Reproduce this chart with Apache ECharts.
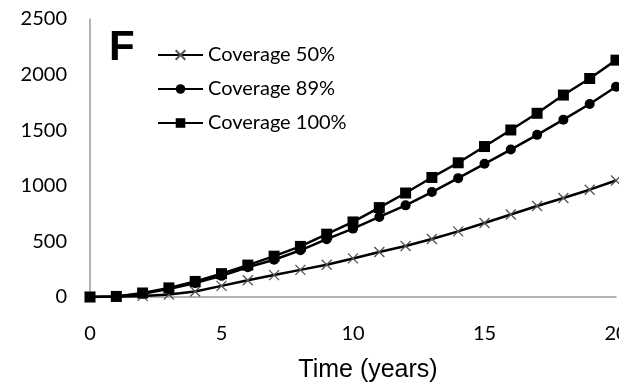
<!DOCTYPE html>
<html>
<head>
<meta charset="utf-8">
<script src="https://cdn.jsdelivr.net/npm/echarts@6/dist/echarts.min.js"></script>
<style>html,body{margin:0;padding:0;background:#fff}#c{width:619px;height:385px}</style>
</head>
<body>
<div id="c"></div>
<script>
var years = [0,1,2,3,4,5,6,7,8,9,10,11,12,13,14,15,16,17,18,19,20];
var cov50  = [0,2,10,22,50,100,150,197,244,290,347,405,458,522,590,665,742,818,890,965,1048];
var cov89  = [0,4,30,72,125,190,268,335,420,520,615,720,824,944,1069,1198,1326,1458,1595,1736,1891];
var cov100 = [0,5,36,82,140,210,287,367,455,565,675,804,935,1075,1207,1353,1502,1652,1816,1965,2130];
var seriesNames = ['Coverage 50%','Coverage 89%','Coverage 100%'];
var panelLabel = 'F';
var xTitle = 'Time (years)';

function pairs(v){ return years.map(function(t,i){ return [t, v[i]]; }); }

var chart = echarts.init(document.getElementById('c'), null, {renderer:'canvas'});
var lab = {fontFamily:'Lato', fontSize:20, color:'#000', formatter:function(v){return String(v);}};
chart.setOption({
  animation:false,
  backgroundColor:'#fff',
  grid:{left:90, right:3, top:19, bottom:88, containLabel:false, outerBoundsMode:'none'},
  graphic:[{type:'text', left:109, top:27, style:{text:panelLabel, font:'bold 42px "Liberation Sans"', fill:'#000'}}],
  legend:{
    orient:'vertical', left:152, top:38, itemGap:10, itemWidth:45, itemHeight:12,
    textStyle:{fontFamily:'Lato', fontSize:20, color:'#000', lineHeight:24},
    data:seriesNames
  },
  xAxis:{
    type:'value', min:0, max:20, interval:5,
    name:xTitle, nameLocation:'middle', nameGap:61,
    nameTextStyle:{fontFamily:'Liberation Sans', fontSize:25, color:'#000', padding:[0,0,0,30]},
    axisLine:{show:true, lineStyle:{color:'#999', width:1.5}},
    axisTick:{show:false}, splitLine:{show:false},
    axisLabel:Object.assign({margin:27, hideOverlap:false}, lab)
  },
  yAxis:{
    type:'value', min:0, max:2500, interval:500,
    axisLine:{show:true, lineStyle:{color:'#999', width:1.5}},
    axisTick:{show:false}, splitLine:{show:false},
    axisLabel:Object.assign({margin:23}, lab)
  },
  series:[
    {name:seriesNames[0], type:'line', data:pairs(cov50), symbol:'path://M0,0L10,10M10,0L0,10', symbolSize:10,
     lineStyle:{color:'#000', width:2.5}, itemStyle:{color:'rgba(0,0,0,0)', borderColor:'#555', borderWidth:1.3}},
    {name:seriesNames[1], type:'line', data:pairs(cov89), symbol:'circle', symbolSize:10,
     lineStyle:{color:'#000', width:2.5}, itemStyle:{color:'#000', borderWidth:0}},
    {name:seriesNames[2], type:'line', data:pairs(cov100), symbol:'rect', symbolSize:11,
     lineStyle:{color:'#000', width:2.5}, itemStyle:{color:'#000', borderWidth:0}}
  ]
});
</script>
</body>
</html>
